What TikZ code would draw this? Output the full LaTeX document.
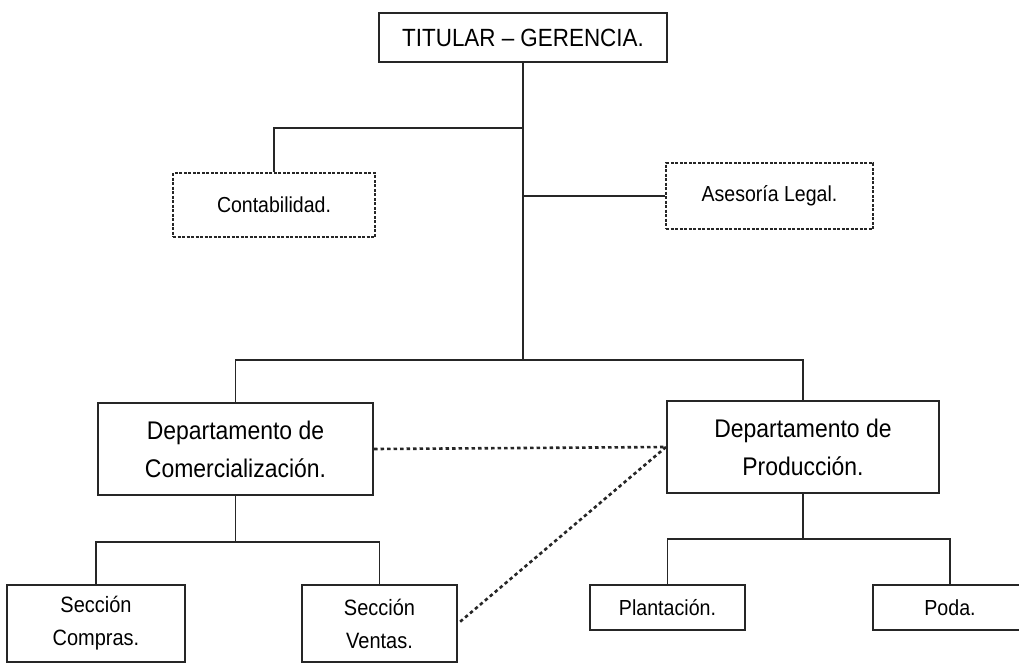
\documentclass[tikz,border=0pt]{standalone}
\usepackage{fontspec}
\setmainfont{Liberation Sans}[FakeStretch=0.9]
\usepackage{tikz}
\tikzset{
  box/.style={draw=black!85, line width=2pt, inner sep=0pt, align=center},
  dbox/.style={box, line width=1.5pt, dash pattern=on 3pt off 1.5pt},
  link/.style={draw=black!85, line width=1.8pt},
  trunk/.style={draw=black!85, line width=2.8pt},
  dotlink/.style={draw=black!85, line width=2.6pt, dash pattern=on 3.5pt off 3pt}
}
\def\fs#1#2{\fontsize{#1}{#2}\selectfont}

\begin{document}
\begin{tikzpicture}[x=1pt, y=-1pt]
			%%%%% START %%%%%
			\useasboundingbox (0,0) rectangle (1019,664);
			
			\node[box, minimum width=288, minimum height=49, font=\fs{24.9}{30}] (tit) at (523,37.5) {TITULAR – GERENCIA.};
			
			\node[dbox, minimum width=202, minimum height=64, font=\fs{21.7}{26}] (cont) at (274,205) {Contabilidad.};
			\node[dbox, minimum width=207, minimum height=66, font=\fs{21.7}{26}] (ase) at (769.5,196) {Asesoría Legal.};
			
			\node[box, minimum width=275, minimum height=92, font=\fs{25.5}{38}] (com) at (235.5,449) {Departamento de\\Comercialización.};
			\node[box, minimum width=272, minimum height=92, font=\fs{25.5}{38}] (pro) at (803,447) {Departamento de\\Producción.};
			
			\node[box, minimum width=178, minimum height=77, font=\fs{22.2}{33}] (comp) at (96,623.5) {Sección\\Compras.};
			\node[box, minimum width=155, minimum height=77, font=\fs{22.2}{33}] (vent) at (379.5,623.5) {Sección\\Ventas.};
			\node[box, minimum width=155, minimum height=45, font=\fs{21.8}{26}] (plan) at (667.5,607.5) {Plantación.};
			\node[box, minimum width=154, minimum height=45, font=\fs{21.8}{26}] (poda) at (950,607.5) {Poda.};
			
			\coordinate (jcont) at (523,128);
			\coordinate (jdep) at (523,360);
			\coordinate (jcom) at (235.5,542);
			\coordinate (jpro) at (803,539);
			
			\draw[trunk] (tit.south) -- (jdep);
			\draw[link] (jcont) -| (cont.north);
			\draw[link] (tit.south |- ase.west) -- (ase.west);
			\draw[link] (com.north) |- (jdep) -| (pro.north);
			
			\draw[link] (com.south) -- (jcom);
			\draw[link] (comp.north) |- (jcom) -| (vent.north);
			\draw[link] (pro.south) -- (jpro);
			\draw[link] (plan.north) |- (jpro) -| (poda.north);
			
			\draw[dotlink] (com.east) -- (pro.west);
			\draw[dotlink] (pro.west) -- (vent.east);
			%%%%% END %%%%%
\end{tikzpicture}
\end{document}
